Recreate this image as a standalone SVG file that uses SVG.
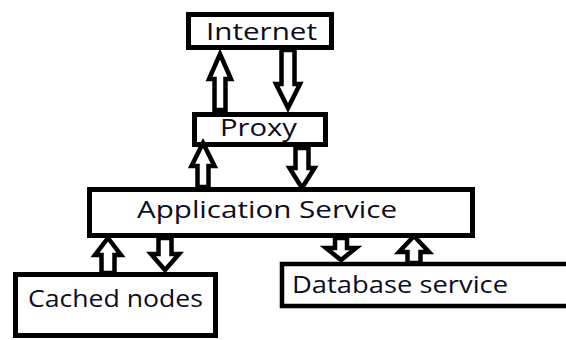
<svg xmlns="http://www.w3.org/2000/svg" width="566" height="340" viewBox="0 0 566 340">
<style>
.box{fill:#fff;stroke:#000;stroke-width:5}
.arr{fill:#fff;stroke:#000;stroke-width:4.5;stroke-linejoin:miter}
.t{font-family:"Open Sans","Noto Sans",sans-serif;font-size:24px;fill:#0c0c22}
</style>
<rect width="566" height="340" fill="#fff"/>
<g id="internet"><rect class="box" x="188.5" y="14.5" width="143" height="33"/><text class="t" x="206" y="40" textLength="111" lengthAdjust="spacingAndGlyphs">Internet</text></g>
<g id="proxy"><rect class="box" x="194.5" y="114.5" width="131" height="30"/><text class="t" x="220" y="136" textLength="77" lengthAdjust="spacingAndGlyphs">Proxy</text></g>
<g id="app"><rect class="box" x="89.5" y="189.5" width="383" height="46"/><text class="t" x="137" y="218" textLength="260" lengthAdjust="spacingAndGlyphs">Application Service</text></g>
<g id="cached"><rect class="box" x="15.5" y="274.5" width="200" height="61"/><text class="t" x="28" y="307" textLength="175" lengthAdjust="spacingAndGlyphs">Cached nodes</text></g>
<g id="database"><rect class="box" x="282" y="264" width="300" height="42" style="stroke-width:4.5"/><text class="t" x="292" y="293" textLength="216" lengthAdjust="spacingAndGlyphs">Database service</text></g>
<g id="connectors">
<polygon class="arr" points="220,54 231,79 225.5,79 225.5,110 214.5,110 214.5,79 209,79"/>
<polygon class="arr" points="281.5,50 294.5,50 294.5,84 300,84 288,108 276,84 281.5,84"/>
<polygon class="arr" points="203,143 214.5,166 208.5,166 208.5,187 197.5,187 197.5,166 191.5,166"/>
<polygon class="arr" points="295.5,148 308.5,148 308.5,168 314.5,168 302,188 289.5,168 295.5,168"/>
<polygon class="arr" points="108,238 121,255 114.5,255 114.5,273 101.5,273 101.5,255 95,255"/>
<polygon class="arr" points="158.5,238 171.5,238 171.5,254 179,254 165,270 151,254 158.5,254"/>
<polygon class="arr" points="335,238 347,238 347,248 356,248 341,260 326,248 335,248"/>
<polygon class="arr" points="414,236 429,252 420.5,252 420.5,263 407.5,263 407.5,252 399,252"/>
</g>
</svg>
